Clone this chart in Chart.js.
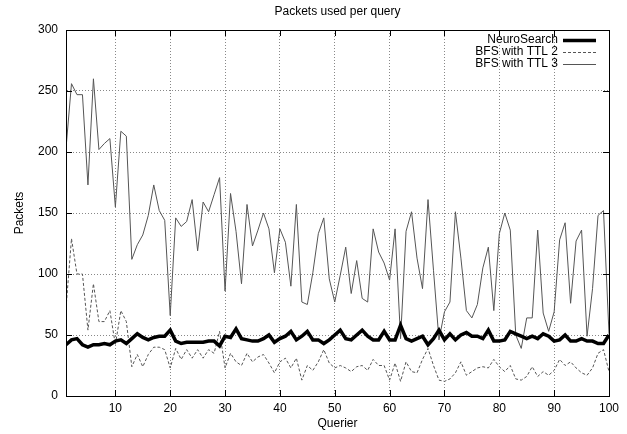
<!DOCTYPE html>
<html>
<head>
<meta charset="utf-8">
<script src="https://cdn.jsdelivr.net/npm/chart.js@4.4.1/dist/chart.umd.min.js"></script>
<style>
	html, body { margin: 0; padding: 0; background: #fff; }
	#wrap { width: 627px; height: 434px; }
</style>
</head>
<body>
<div id="wrap"><canvas id="packets-chart"></canvas></div>
<script>
// Data
const queriers = Array.from({ length: 100 }, (_, i) => i + 1);
const neuroSearch = [
	42, 46, 47, 42, 40, 42, 42, 43, 42, 45,
	46, 43, 47, 51, 48, 46, 48, 49, 49, 54,
	45, 43, 44, 44, 44, 44, 45, 45, 41, 49,
	48, 55, 47, 46, 45, 45, 47, 50, 44, 47,
	49, 53, 46, 49, 53, 46, 46, 43, 46, 50,
	54, 47, 46, 50, 54, 49, 46, 46, 53, 46,
	46, 58, 47, 45, 47, 49, 42, 47, 54, 46,
	51, 46, 50, 52, 49, 49, 47, 54, 45, 45,
	46, 53, 51, 49, 47, 49, 47, 51, 49, 45,
	46, 50, 45, 45, 47, 45, 45, 43, 43, 50
];
const bfsTtl2 = [
	72, 129, 100, 100, 54, 92, 61, 61, 70, 42,
	70, 61, 24, 34, 24, 34, 40, 40, 38, 23,
	39, 30, 38, 31, 38, 31, 38, 35, 53, 23,
	35, 28, 25, 35, 28, 32, 34, 27, 19, 28,
	31, 23, 31, 13, 25, 21, 28, 38, 27, 23,
	25, 23, 20, 24, 25, 21, 30, 25, 25, 13,
	27, 12, 28, 20, 19, 30, 39, 25, 13, 12,
	14, 19, 28, 17, 20, 23, 24, 23, 30, 24,
	20, 25, 14, 13, 16, 24, 16, 20, 17, 21,
	30, 25, 28, 23, 19, 17, 23, 35, 38, 20
];
const bfsTtl3 = [
	203, 256, 247, 247, 173, 260, 202, 207, 211, 155,
	217, 213, 112, 124, 132, 148, 173, 152, 144, 66,
	146, 139, 143, 161, 119, 159, 151, 165, 179, 86,
	166, 135, 92, 157, 123, 136, 150, 137, 101, 137,
	126, 90, 157, 77, 75, 101, 133, 146, 96, 77,
	99, 122, 84, 111, 80, 77, 137, 118, 109, 95,
	137, 47, 135, 151, 113, 88, 161, 103, 46, 69,
	77, 151, 113, 70, 64, 75, 105, 122, 70, 133,
	150, 136, 50, 39, 64, 64, 136, 68, 53, 69,
	128, 142, 76, 127, 136, 49, 88, 148, 152, 51
];
const xTicks = [10, 20, 30, 40, 50, 60, 70, 80, 90, 100];
const yTicks = [0, 50, 100, 150, 200, 250, 300];

const FONT = "'Liberation Sans', Arial, Helvetica, sans-serif";

function points(values) {
	return values.map((v, i) => ({ x: queriers[i], y: v }));
}

// gnuplot style frame: box round the plot plus inward tick marks on all sides
const framePlugin = {
	id: 'frame',
	afterDatasetsDraw(chart) {
		const { ctx, chartArea: a, scales } = chart;
		ctx.save();
		ctx.strokeStyle = '#000';
		ctx.lineWidth = 1;
		ctx.strokeRect(a.left + 0.5, a.top + 0.5, a.right - a.left, a.bottom - a.top);
		ctx.beginPath();
		xTicks.forEach(v => {
			const x = Math.round(scales.x.getPixelForValue(v)) + 0.5;
			ctx.moveTo(x, a.bottom); ctx.lineTo(x, a.bottom - 6);
			ctx.moveTo(x, a.top); ctx.lineTo(x, a.top + 6);
		});
		yTicks.forEach(v => {
			const y = Math.round(scales.y.getPixelForValue(v)) + 0.5;
			ctx.moveTo(a.left, y); ctx.lineTo(a.left + 6, y);
			ctx.moveTo(a.right, y); ctx.lineTo(a.right - 6, y);
		});
		ctx.stroke();
		ctx.restore();
	}
};

// key in the top right corner: label right aligned, then a sample of the line
const keyPlugin = {
	id: 'key',
	afterDatasetsDraw(chart) {
		const { ctx, chartArea: a } = chart;
		const textRight = a.right - 51;
		const lineX1 = a.right - 46, lineX2 = a.right - 13;
		ctx.save();
		ctx.font = '12px ' + FONT;
		ctx.textAlign = 'right';
		ctx.textBaseline = 'middle';
		chart.data.datasets.forEach((ds, i) => {
			const y = a.top + 10 + i * 12;
			ctx.fillStyle = '#000';
			ctx.fillText(ds.label, textRight, y);
			ctx.strokeStyle = ds.borderColor;
			ctx.lineWidth = ds.borderWidth;
			ctx.setLineDash(ds.borderDash || []);
			ctx.beginPath();
			ctx.moveTo(lineX1, y + 0.5);
			ctx.lineTo(lineX2, y + 0.5);
			ctx.stroke();
		});
		ctx.restore();
	}
};

new Chart(document.getElementById('packets-chart'), {
	type: 'line',
	data: {
		datasets: [{
			label: 'NeuroSearch',
			data: points(neuroSearch),
			borderColor: '#000',
			borderWidth: 3.5,
			pointRadius: 0,
			tension: 0
		}, {
			label: 'BFS with TTL 2',
			data: points(bfsTtl2),
			borderColor: '#555',
			borderWidth: 1,
			borderDash: [3, 2],
			pointRadius: 0,
			tension: 0
		}, {
			label: 'BFS with TTL 3',
			data: points(bfsTtl3),
			borderColor: '#555',
			borderWidth: 1,
			pointRadius: 0,
			tension: 0
		}]
	},
	options: {
		responsive: true,
		maintainAspectRatio: false,
		animation: false,
		layout: { padding: { top: 0, right: 18, bottom: 0, left: 0 } },
		scales: {
			x: {
				type: 'linear',
				min: 1,
				max: 100,
				afterBuildTicks: s => { s.ticks = xTicks.map(v => ({ value: v })); },
				afterFit: s => { s.height = 38; },
				grid: { color: '#888', lineWidth: 1, drawTicks: false },
				border: { display: true, color: '#000', dash: [1, 2] },
				ticks: { color: '#000', padding: 5, maxRotation: 0, font: { family: FONT, size: 12 } },
				title: { display: true, text: 'Querier', color: '#000', padding: { top: 0, bottom: 2.8 }, font: { family: FONT, size: 12 } }
			},
			y: {
				min: 0,
				max: 300,
				afterBuildTicks: s => { s.ticks = yTicks.map(v => ({ value: v })); },
				afterFit: s => { s.width = 66; },
				grid: { color: '#888', lineWidth: 1, drawTicks: false },
				border: { display: true, color: '#000', dash: [1, 2] },
				ticks: { color: '#000', padding: 8, font: { family: FONT, size: 12 } },
				title: { display: true, text: 'Packets', color: '#000', padding: { top: 12.8, bottom: 0 }, font: { family: FONT, size: 12 } }
			}
		},
		plugins: {
			legend: { display: false },
			tooltip: { enabled: false },
			title: {
				display: true,
				fullSize: false,
				text: 'Packets used per query',
				color: '#000',
				font: { family: FONT, size: 12, weight: 'normal' },
				padding: { top: 4.8, bottom: 10.8 }
			}
		}
	},
	plugins: [framePlugin, keyPlugin]
});
</script>
</body>
</html>
